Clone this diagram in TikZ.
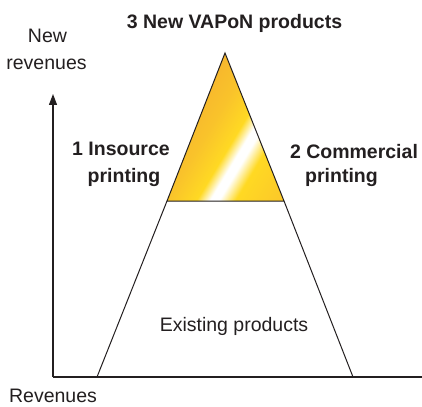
\documentclass[tikz,border=0pt]{standalone}
\usepackage{fontspec}
\setmainfont{Liberation Sans}
\usetikzlibrary{arrows.meta}
\definecolor{goldA}{HTML}{F6B12E}
\definecolor{goldB}{HTML}{F9C32B}
\definecolor{goldC}{HTML}{FFD923}
\definecolor{goldD}{HTML}{FBC62A}
\definecolor{goldE}{HTML}{F4A233}
\definecolor{inkc}{HTML}{231F20}
\pgfdeclarehorizontalshading{goldshade}{100bp}{color(0bp)=(goldA); color(30bp)=(goldA); color(45bp)=(goldB); color(55bp)=(goldC); color(59.5bp)=(white); color(62.5bp)=(white); color(68bp)=(goldC); color(85bp)=(goldD); color(97bp)=(goldE); color(100bp)=(goldE)}
\begin{document}
\begin{tikzpicture}[x=1pt,y=-1pt,
  lbl/.style={font=\fontsize{19.5}{27}\selectfont, anchor=base, inner sep=0pt, text=inkc},
  blbl/.style={font=\fontsize{19.5}{27}\selectfont\bfseries, anchor=base, inner sep=0pt, text=inkc},
  edge/.style={draw=inkc, line width=1pt, line join=miter},
  axisline/.style={draw=inkc, line width=1.2pt}]
\useasboundingbox (0,0) rectangle (422,406);
\coordinate (apex) at (225,53);
\coordinate (ml) at (167,201);
\coordinate (mr) at (284,201);
\coordinate (bl) at (97,377);
\coordinate (br) at (353,377);
\coordinate (o) at (53,377);
\coordinate (ytop) at (53,94);
\coordinate (xend) at (422,377);
\shade[shading=goldshade, shading angle=-31] (apex) -- (mr) -- (ml) -- cycle;
\draw[edge] (apex) -- (mr) -- (ml) -- cycle;
\draw[edge] (ml) -- (bl) -- (br) -- (mr);
\draw[axisline, -{Triangle[length=11pt,width=8pt]}] (o) -- (ytop);
\draw[axisline] (o) -- (xend);
\node[blbl] (title) at (234.5,29) {3 New VAPoN products};
\node[lbl] (new) at (47.5,42.7) {New};
\node[lbl] (rev) at (46.5,69.5) {revenues};
\node[blbl] (ins1) at (121,155) {1 Insource};
\node[blbl] (ins2) at (124,182.5) {printing};
\node[blbl] (com1) at (354,158) {2 Commercial};
\node[blbl] (com2) at (341.5,182) {printing};
\node[lbl] (exist) at (234,331.5) {Existing products};
\node[lbl] (revs) at (53,402.5) {Revenues};
\end{tikzpicture}
\end{document}
